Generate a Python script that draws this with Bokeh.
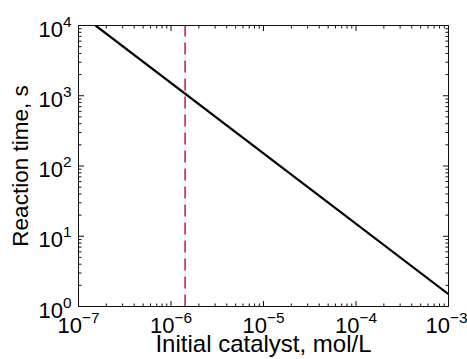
import math
from bokeh.plotting import figure
from bokeh.embed import file_html
from bokeh.resources import INLINE

# data
catalyst = [1.53e-7, 1.0e-3]          # mol/L
reaction_time = [1.0e4, 1.5]           # s
marker_x = [1.42e-6, 1.42e-6]
marker_y = [1.0, 1.0e4]

# axis decades (tick labels)
x_decades = [1e-7, 1e-6, 1e-5, 1e-4, 1e-3]
y_decades = [1e0, 1e1, 1e2, 1e3, 1e4]
minor_mult = [2, 3, 4, 5, 6, 7, 8, 9]

FONT = "Liberation Sans"
AX = "#111111"

p = figure(width=467, height=359, x_axis_type="log", y_axis_type="log",
           x_range=(1e-7, 1e-3), y_range=(1.0, 1e4),
           output_backend="svg", toolbar_location=None,
           min_border_left=78, min_border_right=19, min_border_top=25, min_border_bottom=53)
p.background_fill_color = "white"
p.border_fill_color = "white"
p.outline_line_color = AX
p.outline_line_width = 1
p.grid.visible = False

p.line(catalyst, reaction_time, line_color="black", line_width=2.2)
p.line(marker_x, marker_y, line_color="#cc2449", line_width=1.6, line_dash="12 6")

# inward ticks on all four sides (markers centred on the frame edge, clipped by the frame)
x_minor = [d * m for d in x_decades[:-1] for m in minor_mult]
y_minor = [d * m for d in y_decades[:-1] for m in minor_mult]
x0, x1 = x_decades[0], x_decades[-1]
y0, y1 = y_decades[0], y_decades[-1]
for xs, size in ((x_decades, 11), (x_minor, 6)):
    for yv in (y0, y1):
        p.scatter(xs, [yv] * len(xs), marker="dash", size=size, angle=math.pi / 2,
                  line_color=AX, line_width=1)
for ys, size in ((y_decades, 11), (y_minor, 6)):
    for xv in (x0, x1):
        p.scatter([xv] * len(ys), ys, marker="dash", size=size,
                  line_color=AX, line_width=1)

def style(ax, title_size):
    ax.axis_line_color = AX
    ax.axis_line_width = 1
    ax.major_tick_in = 0
    ax.major_tick_out = 0
    ax.minor_tick_in = 0
    ax.minor_tick_out = 0
    ax.major_tick_line_color = None
    ax.minor_tick_line_color = None
    ax.major_label_text_font = FONT
    ax.major_label_text_font_size = "22px"
    ax.major_label_text_color = "black"
    ax.axis_label_text_font = FONT
    ax.axis_label_text_font_style = "normal"
    ax.axis_label_text_font_size = title_size
    ax.axis_label_text_color = "black"

style(p.xaxis[0], "24px")
style(p.yaxis[0], "22.5px")
p.xaxis[0].axis_label = "Initial catalyst, mol/L"
p.yaxis[0].axis_label = "Reaction time, s"
p.xaxis[0].axis_label_text_line_height = 0.8
p.xaxis[0].major_label_standoff = 4
p.yaxis[0].major_label_standoff = 7
p.xaxis[0].axis_label_standoff = -6
p.yaxis[0].axis_label_standoff = 2

open("out.html", "w").write(file_html(p, INLINE))
